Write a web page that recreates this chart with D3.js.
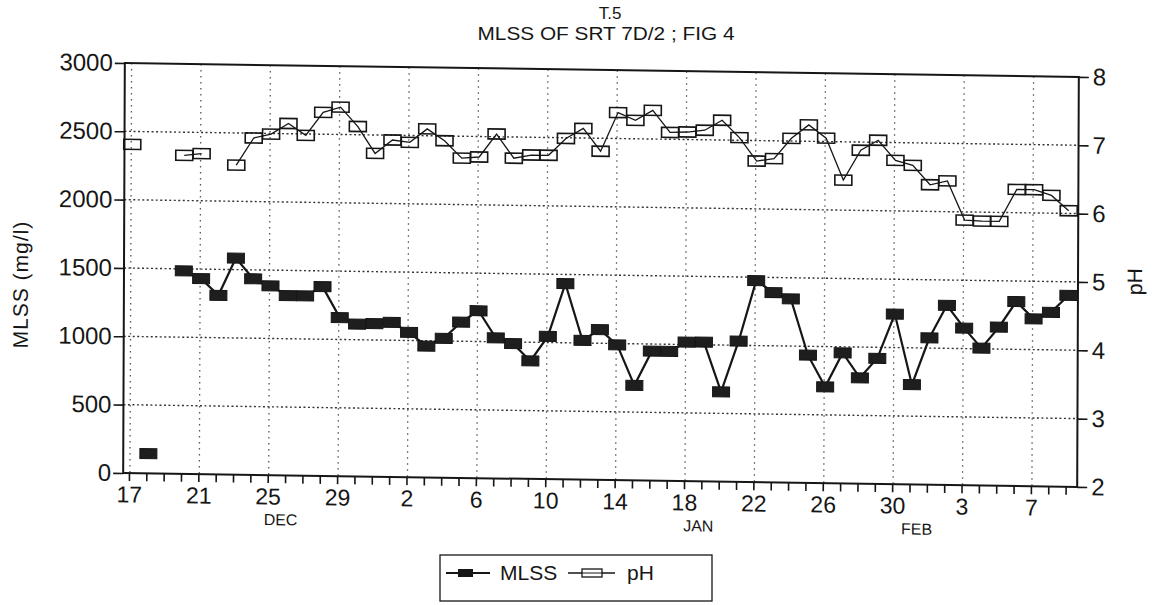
<!DOCTYPE html>
<html>
<head>
<meta charset="utf-8">
<script src="https://cdn.jsdelivr.net/npm/d3@7"></script>
<style>
  body { margin: 0; background: #fff; }
  svg { font-family: "Liberation Sans", Arial, sans-serif; }
</style>
</head>
<body>
<svg id="chart" width="1155" height="605"></svg>
<script>
// one entry per day, Dec 17 .. Feb 9
const days = [
  "1990-12-17","1990-12-18","1990-12-19","1990-12-20","1990-12-21","1990-12-22","1990-12-23",
  "1990-12-24","1990-12-25","1990-12-26","1990-12-27","1990-12-28","1990-12-29","1990-12-30",
  "1990-12-31","1991-01-01","1991-01-02","1991-01-03","1991-01-04","1991-01-05","1991-01-06",
  "1991-01-07","1991-01-08","1991-01-09","1991-01-10","1991-01-11","1991-01-12","1991-01-13",
  "1991-01-14","1991-01-15","1991-01-16","1991-01-17","1991-01-18","1991-01-19","1991-01-20",
  "1991-01-21","1991-01-22","1991-01-23","1991-01-24","1991-01-25","1991-01-26","1991-01-27",
  "1991-01-28","1991-01-29","1991-01-30","1991-01-31","1991-02-01","1991-02-02","1991-02-03",
  "1991-02-04","1991-02-05","1991-02-06","1991-02-07","1991-02-08","1991-02-09"
];
const mlss = [
  null, 145, null, 1485, 1430, 1310, 1585,
  1435, 1385, 1315, 1315, 1385, 1160, 1115,
  1120, 1130, 1060, 960, 1020, 1140, 1225,
  1028, 988, 863, 1045, 1433, 1020, 1100,
  990, 696, 948, 948, 1018, 1020, 657,
  1030, 1475, 1390, 1345, 935, 705, 955,
  775, 920, 1245, 730, 1075, 1315, 1150,
  1005, 1160, 1350, 1225, 1275, 1400
];
const ph = [
  6.81, null, null, 6.66, 6.69, null, 6.53,
  6.93, 6.99, 7.15, 6.98, 7.32, 7.40, 7.12,
  6.73, 6.93, 6.90, 7.10, 6.93, 6.68, 6.70,
  7.04, 6.69, 6.74, 6.74, 6.99, 7.14, 6.81,
  7.38, 7.27, 7.42, 7.10, 7.11, 7.14, 7.29,
  7.04, 6.70, 6.74, 7.04, 7.24, 7.05, 6.44,
  6.88, 7.03, 6.74, 6.67, 6.39, 6.45, 5.88,
  5.87, 5.87, 6.34, 6.34, 6.26, 6.04
];
const tickDays = ["1990-12-17","1990-12-21","1990-12-25","1990-12-29","1991-01-02","1991-01-06",
  "1991-01-10","1991-01-14","1991-01-18","1991-01-22","1991-01-26","1991-01-30","1991-02-03","1991-02-07"];
const months = [["DEC", "1990-12-25 18"], ["JAN", "1991-01-18 20"], ["FEB", "1991-01-31 10"]];
const mlssTicks = [0, 500, 1000, 1500, 2000, 2500, 3000];
const mlssGrid = [500, 1000, 1500, 2000, 2500];
const phTicks = [2, 3, 4, 5, 6, 7, 8];

const parse = d3.timeParse("%Y-%m-%d");
const parseH = d3.timeParse("%Y-%m-%d %H");
const plot = { left: 124, right: 1078, top: 70, bottom: 480 };
const ink = "#161616";

const svg = d3.select("#chart");
svg.append("rect").attr("width", 1155).attr("height", 605).attr("fill", "#fff");

const x = d3.scaleTime()
    .domain([d3.timeHour.offset(parse(days[0]), -8), d3.timeHour.offset(parse(days[days.length - 1]), 16)])
    .range([plot.left, plot.right]);
const yL = d3.scaleLinear().domain([0, 3000]).range([plot.bottom, plot.top]);
const yR = d3.scaleLinear().domain([2, 8]).range([plot.bottom, plot.top]);

// the scanned page is slightly skewed
const g = svg.append("g")
    .attr("transform", "matrix(1,0.0146,-0.004,1,1.1,-8.82)");

// grid
g.selectAll(".hgrid").data(mlssGrid).enter().append("line")
    .attr("x1", plot.left).attr("x2", plot.right)
    .attr("y1", d => yL(d)).attr("y2", d => yL(d))
    .attr("stroke", "#333").attr("stroke-width", 1.4).attr("stroke-dasharray", "2,2.5");
g.selectAll(".vgrid").data(tickDays).enter().append("line")
    .attr("x1", d => x(parse(d)) + 1).attr("x2", d => x(parse(d)) + 1)
    .attr("y1", plot.top).attr("y2", plot.bottom)
    .attr("stroke", "#555").attr("stroke-width", 1.3).attr("stroke-dasharray", "1.5,4.5");

// axes
const left = g.append("g").attr("transform", `translate(${plot.left},0)`)
    .call(d3.axisLeft(yL).tickValues(mlssTicks).tickSize(10).tickPadding(2).tickFormat(d3.format("d")));
const right = g.append("g").attr("transform", `translate(${plot.right},0)`)
    .call(d3.axisRight(yR).tickValues(phTicks).tickSize(10).tickPadding(4).tickFormat(d3.format("d")));
const minor = g.append("g").attr("transform", `translate(0,${plot.bottom})`)
    .call(d3.axisBottom(x).tickValues(days.map(parse)).tickSize(8).tickFormat(""));
const bottom = g.append("g").attr("transform", `translate(0,${plot.bottom})`)
    .call(d3.axisBottom(x).tickValues(tickDays.map(parse)).tickSize(0).tickPadding(13)
        .tickFormat(d3.timeFormat("%-d")));

[left, right, minor, bottom].forEach(a => {
  a.select(".domain").remove();
  a.selectAll("line").attr("stroke", ink).attr("stroke-width", 1.6);
  a.selectAll("text").attr("fill", ink).style("font-size", "24px");
});
bottom.selectAll("text").style("font-size", "23px");

g.append("path")
    .attr("d", `M${plot.left},${plot.top}H${plot.right}V${plot.bottom}H${plot.left}Z`)
    .attr("fill", "none").attr("stroke", ink).attr("stroke-width", 2);

g.selectAll(".month").data(months).enter().append("text")
    .attr("x", d => x(parseH(d[1]))).attr("y", 530)
    .attr("text-anchor", "middle").attr("fill", ink).style("font-size", "16px")
    .text(d => d[0]);

g.append("text")
    .attr("transform", "translate(28,293) rotate(-90)")
    .attr("text-anchor", "middle").attr("fill", ink).style("font-size", "21px")
    .style("letter-spacing", "1px")
    .text("MLSS (mg/l)");
g.append("text")
    .attr("transform", "translate(1142,274) rotate(-90)")
    .attr("text-anchor", "middle").attr("fill", ink).style("font-size", "21px")
    .text("pH");

// series
const mlssData = days.map((d, i) => ({ date: parse(d), v: mlss[i] }));
const phData = days.map((d, i) => ({ date: parse(d), v: ph[i] }));

const lineL = d3.line().defined(d => d.v != null).x(d => x(d.date) + 2).y(d => yL(d.v));
const lineR = d3.line().defined(d => d.v != null).x(d => x(d.date) + 2).y(d => yR(d.v));

g.append("path").datum(phData).attr("d", lineR)
    .attr("fill", "none").attr("stroke", ink).attr("stroke-width", 1.3);
g.selectAll(".phm").data(phData.filter(d => d.v != null)).enter().append("rect")
    .attr("x", d => x(d.date) + 2 - 8.5).attr("y", d => yR(d.v) - 5)
    .attr("width", 17).attr("height", 10)
    .attr("fill", "none").attr("stroke", ink).attr("stroke-width", 1.6);

g.append("path").datum(mlssData).attr("d", lineL)
    .attr("fill", "none").attr("stroke", ink).attr("stroke-width", 2.2);
g.selectAll(".mlm").data(mlssData.filter(d => d.v != null)).enter().append("rect")
    .attr("x", d => x(d.date) + 2 - 8.5).attr("y", d => yL(d.v) - 5)
    .attr("width", 17).attr("height", 10)
    .attr("fill", "#1e1e1e").attr("stroke", ink).attr("stroke-width", 1);

// title
svg.append("text").attr("x", 610).attr("y", 19).attr("text-anchor", "middle")
    .attr("fill", ink).style("font-size", "17px").text("T.5");
svg.append("text").attr("x", 606).attr("y", 40).attr("text-anchor", "middle")
    .attr("fill", ink).style("font-size", "18px")
    .attr("textLength", 257).attr("lengthAdjust", "spacingAndGlyphs")
    .text("MLSS OF SRT 7D/2 ; FIG 4");

// legend
const leg = svg.append("g");
leg.append("rect").attr("x", 440).attr("y", 555).attr("width", 272).attr("height", 46)
    .attr("fill", "none").attr("stroke", ink).attr("stroke-width", 1.3);
leg.append("line").attr("x1", 446).attr("x2", 490).attr("y1", 573).attr("y2", 573)
    .attr("stroke", ink).attr("stroke-width", 2);
leg.append("rect").attr("x", 458).attr("y", 569).attr("width", 15).attr("height", 8).attr("fill", ink);
leg.append("text").attr("x", 500).attr("y", 580).attr("fill", ink).style("font-size", "21px").text("MLSS");
leg.append("line").attr("x1", 568).attr("x2", 615).attr("y1", 573).attr("y2", 573)
    .attr("stroke", ink).attr("stroke-width", 1.3);
leg.append("rect").attr("x", 582).attr("y", 569).attr("width", 20).attr("height", 8)
    .attr("fill", "#fff").attr("stroke", ink).attr("stroke-width", 1.3);
leg.append("line").attr("x1", 582).attr("x2", 602).attr("y1", 573).attr("y2", 573)
    .attr("stroke", ink).attr("stroke-width", 1);
leg.append("text").attr("x", 627).attr("y", 580).attr("fill", ink).style("font-size", "21px").text("pH");
</script>
</body>
</html>
